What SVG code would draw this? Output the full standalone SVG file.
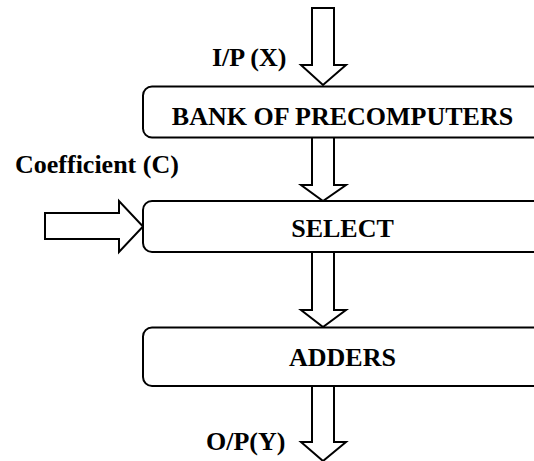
<svg xmlns="http://www.w3.org/2000/svg" width="534" height="461" viewBox="0 0 534 461">
<style>
.box{fill:#fff;stroke:#000;stroke-width:2}
.arr{fill:#fff;stroke:#000;stroke-width:2;stroke-linejoin:miter}
.t{font-family:'Liberation Serif','Times New Roman','DejaVu Serif',serif;font-weight:700;font-size:26px;fill:#000}
.c{text-anchor:middle}
</style>
<rect width="534" height="461" fill="#fff"/>
<g id="connectors">
<polygon class="arr" points="312,8 334,8 334,65 346,65 323,85 301,65 312,65"/>
<polygon class="arr" points="312,137 334,137 334,185 346,185 323,201 301,185 312,185"/>
<polygon class="arr" points="312,252 334,252 334,310 346,310 323,327 301,310 312,310"/>
<polygon class="arr" points="312,386 334,386 334,442 346,442 323,461 301,442 312,442"/>
<polygon class="arr" points="45,213 119,213 119,201 143,226.5 119,252 119,239 45,239"/>
</g>
<g id="label-ip"><text class="t" font-family="Liberation Serif, serif" x="212" y="66">I/P (X)</text></g>
<g id="label-coef"><text class="t" font-family="Liberation Serif, serif" x="15" y="173">Coefficient (C)</text></g>
<g id="label-op"><text class="t" font-family="Liberation Serif, serif" x="206" y="450">O/P(Y)</text></g>
<g id="node-bank">
<rect class="box" x="143" y="86.5" width="400" height="51" rx="9"/>
<text class="t c" font-family="Liberation Serif, serif" x="342.5" y="125">BANK OF PRECOMPUTERS</text>
</g>
<g id="node-select">
<rect class="box" x="143" y="201" width="400" height="51" rx="9"/>
<text class="t c" font-family="Liberation Serif, serif" x="342.5" y="237">SELECT</text>
</g>
<g id="node-adders">
<rect class="box" x="143" y="327.5" width="400" height="58.5" rx="9"/>
<text class="t c" font-family="Liberation Serif, serif" x="342.5" y="366">ADDERS</text>
</g>
</svg>
